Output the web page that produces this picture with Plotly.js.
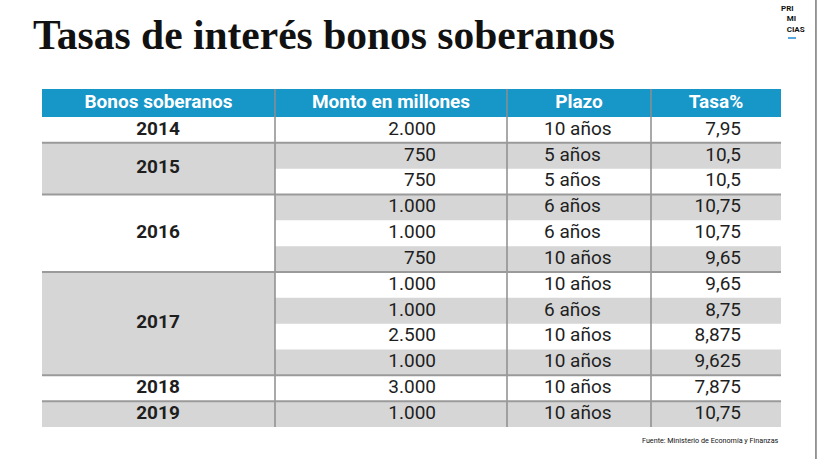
<!DOCTYPE html>
<html>
<head>
<meta charset="utf-8">
<script src="https://cdn.plot.ly/plotly-3.0.1.min.js"></script>
<style>
  html, body { margin: 0; padding: 0; background: #ffffff; }
  #chart { width: 820px; height: 459px; }
</style>
</head>
<body>
<div id="chart"></div>
<script>
// ---- Data ----
const headers = ['Bonos soberanos', 'Monto en millones', 'Plazo', 'Tasa%'];
const years = ['2014', '2015', '2016', '2017', '2018', '2019'];
const yearSpans = [1, 2, 3, 4, 1, 1];
const monto = ['2.000', '750', '750', '1.000', '1.000', '750', '1.000', '1.000', '2.500', '1.000', '3.000', '1.000'];
const plazo = ['10 años', '5 años', '5 años', '6 años', '6 años', '10 años', '10 años', '6 años', '10 años', '10 años', '10 años', '10 años'];
const tasa = ['7,95', '10,5', '10,5', '10,75', '10,75', '9,65', '9,65', '8,75', '8,875', '9,625', '7,875', '10,75'];
const titleText = 'Tasas de interés bonos soberanos';
const sourceText = 'Fuente: Ministerio de Economía y Finanzas';
const logoLines = ['PRI', '\u2002\u2009MI', '\u2002\u2009CIAS'];

// ---- Layout constants ----
const BLUE = '#1796c8';
const GREY = '#d6d6d6';
const LINE = '#9a9a9a';
const colEdges = [0, 233, 465, 609, 739];
const headerH = 1.085;
const nRows = monto.length;
const tableW = colEdges[4];

const rowIdx = monto.map((_, i) => i);
const rowCenters = rowIdx.map(i => i + 0.5);

// group starts / centers
const groupStarts = [];
let acc = 0;
yearSpans.forEach(s => { groupStarts.push(acc); acc += s; });
const groupCenters = groupStarts.map((s, i) => s + yearSpans[i] / 2);
const groupEnds = groupStarts.map((s, i) => s + yearSpans[i]);

const traces = [];

// Header background
traces.push({
  type: 'bar', orientation: 'h',
  y: [-headerH / 2], x: [tableW], base: [0], width: [headerH],
  marker: { color: BLUE, line: { width: 0 } },
  hoverinfo: 'skip', showlegend: false
});

// Striped rows (right columns)
const stripeRows = rowIdx.filter(i => i % 2 === 1);
traces.push({
  type: 'bar', orientation: 'h',
  y: stripeRows.map(i => rowCenters[i]),
  x: stripeRows.map(() => tableW - colEdges[1]),
  base: stripeRows.map(() => colEdges[1]),
  width: stripeRows.map(() => 1),
  marker: { color: GREY, line: { width: 0 } },
  hoverinfo: 'skip', showlegend: false
});

// Year cells (merged)
const greyGroups = years.map((_, i) => i).filter(i => i % 2 === 1);
traces.push({
  type: 'bar', orientation: 'h',
  y: greyGroups.map(i => groupCenters[i]),
  x: greyGroups.map(() => colEdges[1]),
  base: greyGroups.map(() => 0),
  width: greyGroups.map(i => yearSpans[i]),
  marker: { color: GREY, line: { width: 0 } },
  hoverinfo: 'skip', showlegend: false
});

const bodyFont = { family: 'Roboto', size: 19, color: '#1e1e1e' };

// Header text
traces.push({
  type: 'scatter', mode: 'text',
  x: headers.map((_, i) => (colEdges[i] + colEdges[i + 1]) / 2),
  y: headers.map(() => -headerH / 2),
  text: headers, textposition: 'middle center',
  textfont: { family: 'Roboto', size: 19, color: '#ffffff', weight: 'bold' },
  hoverinfo: 'skip', showlegend: false
});

// Years
traces.push({
  type: 'scatter', mode: 'text',
  x: years.map(() => 116), y: groupCenters,
  text: years, textposition: 'middle center',
  textfont: { family: 'Roboto', size: 19, color: '#1e1e1e', weight: 'bold' },
  hoverinfo: 'skip', showlegend: false
});

// Monto (right aligned)
traces.push({
  type: 'scatter', mode: 'text',
  x: monto.map(() => 394), y: rowCenters,
  text: monto, textposition: 'middle left',
  textfont: bodyFont, hoverinfo: 'skip', showlegend: false
});

// Plazo (left aligned)
traces.push({
  type: 'scatter', mode: 'text',
  x: plazo.map(() => 502), y: rowCenters,
  text: plazo, textposition: 'middle right',
  textfont: bodyFont, hoverinfo: 'skip', showlegend: false
});

// Tasa (right aligned)
traces.push({
  type: 'scatter', mode: 'text',
  x: tasa.map(() => 699), y: rowCenters,
  text: tasa, textposition: 'middle left',
  textfont: bodyFont, hoverinfo: 'skip', showlegend: false
});

// Grid lines
const shapes = [];
colEdges.slice(1, 4).forEach(xe => {
  shapes.push({ type: 'line', xref: 'x', yref: 'y', x0: xe, x1: xe, y0: -headerH, y1: nRows,
    line: { color: '#8c8c8c', width: 1.5 } });
});
groupEnds.slice(0, -1).forEach(ye => {
  shapes.push({ type: 'line', xref: 'x', yref: 'y', x0: 0, x1: tableW, y0: ye, y1: ye,
    line: { color: LINE, width: 2 } });
});
// Right frame edge
shapes.push({ type: 'line', xref: 'paper', yref: 'paper', x0: 1.0473, x1: 1.0473, y0: -0.1, y1: 1.3,
  line: { color: '#555555', width: 1.2 } });
// Logo dash
shapes.push({ type: 'line', xref: 'paper', yref: 'paper', x0: 1.0095, x1: 1.0203, y0: 1.1509, y1: 1.1509,
  line: { color: '#55a8e0', width: 2 } });

const annotations = [
  { text: logoLines.join('<br>'), xref: 'paper', yref: 'paper', x: 0.9986, xanchor: 'left', align: 'left',
    y: 1.254, yanchor: 'top', showarrow: false, borderpad: 0,
    font: { family: 'Roboto', size: 8, color: '#111111', weight: 'bold' } },
  { text: sourceText, xref: 'paper', yref: 'paper', x: 1.0, xanchor: 'right', y: -0.04, yanchor: 'middle', showarrow: false,
    font: { family: 'Roboto', size: 7.2, color: '#111111' } }
];

const layout = {
  width: 820, height: 459,
  margin: { l: 42, r: 39, t: 89, b: 32, pad: 0 },
  paper_bgcolor: '#ffffff', plot_bgcolor: '#ffffff',
  title: {
    text: titleText,
    font: { family: 'Liberation Serif', size: 41.5, color: '#111111', weight: 'bold' },
    xref: 'container', yref: 'container', x: 33 / 820, xanchor: 'left', y: 1 - 34.5 / 459, yanchor: 'middle'
  },
  xaxis: { range: [0, tableW], visible: false, fixedrange: true },
  yaxis: { range: [nRows, -headerH], visible: false, fixedrange: true },
  barmode: 'overlay',
  showlegend: false,
  shapes: shapes,
  annotations: annotations
};

Plotly.newPlot('chart', traces, layout, { displayModeBar: false, staticPlot: true });
</script>
</body>
</html>
